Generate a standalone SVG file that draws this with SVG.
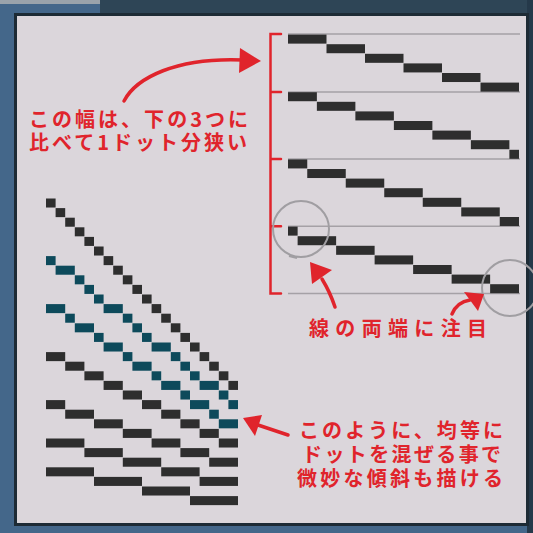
<svg xmlns="http://www.w3.org/2000/svg" width="533" height="533" viewBox="0 0 533 533">
<style>
.lbl{font-family:"Noto Sans CJK JP","Noto Sans CJK SC",sans-serif;font-size:20px;font-weight:700;fill:#e0242c}
.blk rect{fill:#2e2e2e}
.teal rect{fill:#0d4a5b}
.guide{stroke:#a5a1a6;stroke-width:1.5;fill:none}
.ring{stroke:#a09ea2;stroke-width:2;fill:none}
.red{stroke:#e0242c;fill:none;stroke-linecap:round}
.head{fill:#e0242c}
</style>
<g id="frame">
<rect width="533" height="533" fill="#44678a"/>
<rect x="100" y="0" width="433" height="14" fill="#2e4556"/>
<rect x="0" y="0" width="100" height="4" fill="#9aa3ab"/>
<rect x="527" y="0" width="6" height="533" fill="#25394a"/>
<rect x="15.5" y="14.5" width="512" height="510" fill="#dbd6db" stroke="#1d2b35" stroke-width="3"/>
</g>
<g id="guides">
<line class="guide" x1="288" y1="34" x2="520" y2="34"/>
<line class="guide" x1="288" y1="92" x2="520" y2="92"/>
<line class="guide" x1="288" y1="159" x2="520" y2="159"/>
<line class="guide" x1="288" y1="226.3" x2="520" y2="226.3"/>
<line class="guide" x1="288" y1="293.5" x2="520" y2="293.5"/>
</g>
<g id="stairs-right" class="blk" transform="translate(288,34.6) scale(9.625,9.6)">
<rect x="0" y="0" width="4" height="0.94"/><rect x="4" y="1" width="4" height="0.94"/><rect x="8" y="2" width="4" height="0.94"/><rect x="12" y="3" width="4" height="0.94"/><rect x="16" y="4" width="4" height="0.94"/><rect x="20" y="5" width="4" height="0.94"/>
<rect x="0" y="6" width="3" height="0.94"/><rect x="3" y="7" width="4" height="0.94"/><rect x="7" y="8" width="4" height="0.94"/><rect x="11" y="9" width="4" height="0.94"/><rect x="15" y="10" width="4" height="0.94"/><rect x="19" y="11" width="4" height="0.94"/><rect x="23" y="12" width="1" height="0.94"/>
<rect x="0" y="13" width="2" height="0.94"/><rect x="2" y="14" width="4" height="0.94"/><rect x="6" y="15" width="4" height="0.94"/><rect x="10" y="16" width="4" height="0.94"/><rect x="14" y="17" width="4" height="0.94"/><rect x="18" y="18" width="4" height="0.94"/><rect x="22" y="19" width="2" height="0.94"/>
<rect x="0" y="20" width="1" height="0.94"/><rect x="1" y="21" width="4" height="0.94"/><rect x="5" y="22" width="4" height="0.94"/><rect x="9" y="23" width="4" height="0.94"/><rect x="13" y="24" width="4" height="0.94"/><rect x="17" y="25" width="4" height="0.94"/><rect x="21" y="26" width="3" height="0.94"/>
</g>
<g id="bracket">
<path class="red" stroke-width="2.5" stroke-linecap="butt" d="M281,34H270.5V293.5H281M270.5,92H281M270.5,159H281M270.5,226.3H281"/>
</g>
<g id="rings">
<circle class="ring" cx="301" cy="229" r="28"/>
<path class="ring" d="M289,256 L297,258"/>
<circle class="ring" cx="510" cy="288" r="28"/>
</g>
<g id="ladder-left" transform="translate(46,198.5) scale(9.6)">
<g class="blk">
<rect x="0" y="0" width="1" height="0.94"/><rect x="1" y="1" width="1" height="0.94"/><rect x="2" y="2" width="1" height="0.94"/><rect x="3" y="3" width="1" height="0.94"/><rect x="4" y="4" width="1" height="0.94"/><rect x="5" y="5" width="1" height="0.94"/><rect x="6" y="6" width="1" height="0.94"/><rect x="7" y="7" width="1" height="0.94"/><rect x="8" y="8" width="1" height="0.94"/><rect x="9" y="9" width="1" height="0.94"/><rect x="10" y="10" width="1" height="0.94"/><rect x="11" y="11" width="1" height="0.94"/><rect x="12" y="12" width="1" height="0.94"/><rect x="13" y="13" width="1" height="0.94"/><rect x="14" y="14" width="1" height="0.94"/><rect x="15" y="15" width="1" height="0.94"/><rect x="16" y="16" width="1" height="0.94"/><rect x="17" y="17" width="1" height="0.94"/><rect x="18" y="18" width="1" height="0.94"/><rect x="19" y="19" width="1" height="0.94"/>
<rect x="0" y="16" width="2" height="0.94"/><rect x="2" y="17" width="2" height="0.94"/><rect x="4" y="18" width="2" height="0.94"/><rect x="6" y="19" width="2" height="0.94"/><rect x="8" y="20" width="2" height="0.94"/><rect x="10" y="21" width="2" height="0.94"/><rect x="12" y="22" width="2" height="0.94"/><rect x="14" y="23" width="2" height="0.94"/><rect x="16" y="24" width="2" height="0.94"/><rect x="18" y="25" width="2" height="0.94"/>
<rect x="0" y="21" width="2" height="0.94"/><rect x="2" y="22" width="3" height="0.94"/><rect x="5" y="23" width="3" height="0.94"/><rect x="8" y="24" width="3" height="0.94"/><rect x="11" y="25" width="3" height="0.94"/><rect x="14" y="26" width="3" height="0.94"/><rect x="17" y="27" width="3" height="0.94"/>
<rect x="0" y="25" width="4" height="0.94"/><rect x="4" y="26" width="4" height="0.94"/><rect x="8" y="27" width="4" height="0.94"/><rect x="12" y="28" width="4" height="0.94"/><rect x="16" y="29" width="4" height="0.94"/>
<rect x="0" y="28" width="5" height="0.94"/><rect x="5" y="29" width="5" height="0.94"/><rect x="10" y="30" width="5" height="0.94"/><rect x="15" y="31" width="5" height="0.94"/>
</g>
<g class="teal">
<rect x="0" y="6" width="1" height="0.94"/><rect x="1" y="7" width="2" height="0.94"/><rect x="3" y="8" width="1" height="0.94"/><rect x="4" y="9" width="1" height="0.94"/><rect x="5" y="10" width="1" height="0.94"/><rect x="6" y="11" width="2" height="0.94"/><rect x="8" y="12" width="1" height="0.94"/><rect x="9" y="13" width="1" height="0.94"/><rect x="10" y="14" width="1" height="0.94"/><rect x="11" y="15" width="2" height="0.94"/><rect x="13" y="16" width="1" height="0.94"/><rect x="14" y="17" width="1" height="0.94"/><rect x="15" y="18" width="1" height="0.94"/><rect x="16" y="19" width="2" height="0.94"/><rect x="18" y="20" width="1" height="0.94"/><rect x="19" y="21" width="1" height="0.94"/>
<rect x="0" y="11" width="2" height="0.94"/><rect x="2" y="12" width="1" height="0.94"/><rect x="3" y="13" width="2" height="0.94"/><rect x="5" y="14" width="1" height="0.94"/><rect x="6" y="15" width="2" height="0.94"/><rect x="8" y="16" width="1" height="0.94"/><rect x="9" y="17" width="2" height="0.94"/><rect x="11" y="18" width="1" height="0.94"/><rect x="12" y="19" width="2" height="0.94"/><rect x="14" y="20" width="1" height="0.94"/><rect x="15" y="21" width="2" height="0.94"/><rect x="17" y="22" width="1" height="0.94"/><rect x="18" y="23" width="2" height="0.94"/>
</g>
</g>
<g id="arrows">
<path class="red" stroke-width="3.5" d="M124,101 C136,78 176,57 244,60"/>
<polygon class="head" points="261,61 240,48 239,73"/>
<path class="red" stroke-width="3.5" d="M335,307 Q330,292 322,279"/>
<polygon class="head" points="310,262 312,284 332,270"/>
<path class="red" stroke-width="3.5" d="M452,314 Q457,302 470,300"/>
<polygon class="head" points="484,294 464,292 478,311"/>
<path class="red" stroke-width="3.5" d="M288,435 L258,425"/>
<polygon class="head" points="243,418 262,415 255,436"/>
</g>
<g id="note-top">
<text class="lbl" x="29" y="126.5" textLength="219" lengthAdjust="spacing">この幅は、下の3つに</text>
<text class="lbl" x="29" y="149.5" textLength="218" lengthAdjust="spacing">比べて1ドット分狭い</text>
</g>
<g id="note-ends">
<text class="lbl" x="309" y="336" textLength="178" lengthAdjust="spacing">線の両端に注目</text>
</g>
<g id="note-mix">
<text class="lbl" x="299" y="438" textLength="204" lengthAdjust="spacing">このように、均等に</text>
<text class="lbl" x="302" y="462" textLength="199" lengthAdjust="spacing">ドットを混ぜる事で</text>
<text class="lbl" x="297" y="486" textLength="206" lengthAdjust="spacing">微妙な傾斜も描ける</text>
</g>
</svg>
